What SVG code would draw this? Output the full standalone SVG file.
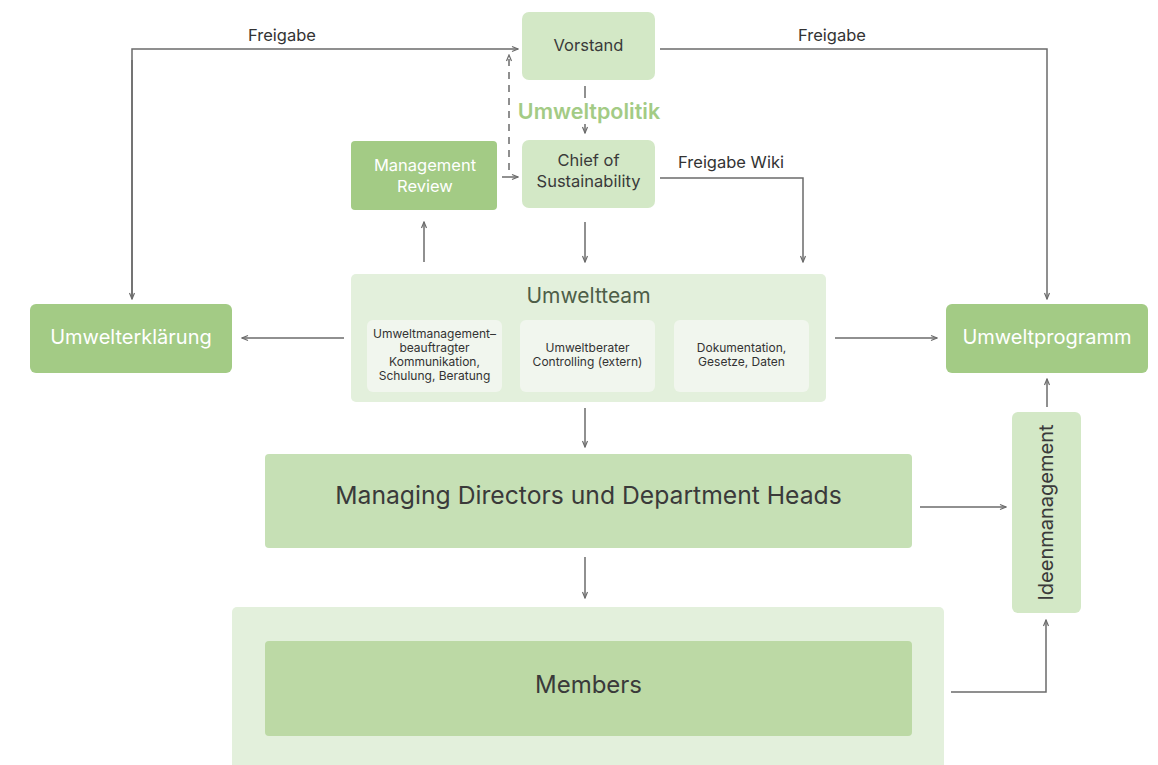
<svg xmlns="http://www.w3.org/2000/svg" width="1158" height="765" viewBox="0 0 1158 765">
<defs>
<marker id="ah" viewBox="0 0 8 8" refX="7" refY="4" markerWidth="8" markerHeight="8" markerUnits="userSpaceOnUse" orient="auto">
<path d="M1,1.5 L7,4 L1,6.5" fill="none" stroke="#6b6b6b" stroke-width="1.2"/>
</marker>
<style>
text{font-family:Inter,"Noto Sans","Liberation Sans",sans-serif;text-anchor:middle}
.c{fill:none;stroke:#6b6b6b;stroke-width:1.5}
.d{stroke-dasharray:7 6}
.lab{font-size:16.5px;fill:#333}
.light{fill:#d3e8c6}
.dark{fill:#a3cb85}
.team{fill:#e3f0dc}
.sub{fill:#f1f6ee}
.dt{fill:#3a3a3a}
.wt{fill:#ffffff}
.small{font-size:12px;fill:#333}
</style>
</defs>
<rect width="1158" height="765" fill="#ffffff"/>

<g id="connectors">
<polyline class="c" points="132,298 132,49 518,49" marker-end="url(#ah)"/>
<line class="c" x1="132" y1="60" x2="132" y2="299" marker-end="url(#ah)"/>
<polyline class="c" points="660,49 1047,49 1047,299" marker-end="url(#ah)"/>
<line class="c d" x1="509" y1="170" x2="509" y2="55" marker-end="url(#ah)"/>
<line class="c" x1="502" y1="177" x2="518" y2="177" marker-end="url(#ah)"/>
<line class="c" x1="585" y1="86" x2="585" y2="98"/>
<line class="c" x1="585" y1="124" x2="585" y2="133" marker-end="url(#ah)"/>
<polyline class="c" points="660,178 803,178 803,262" marker-end="url(#ah)"/>
<line class="c" x1="585" y1="222" x2="585" y2="262" marker-end="url(#ah)"/>
<line class="c" x1="424" y1="262" x2="424" y2="222" marker-end="url(#ah)"/>
<line class="c" x1="344" y1="338" x2="242" y2="338" marker-end="url(#ah)"/>
<line class="c" x1="835" y1="338" x2="937" y2="338" marker-end="url(#ah)"/>
<line class="c" x1="585" y1="408" x2="585" y2="447" marker-end="url(#ah)"/>
<line class="c" x1="585" y1="557" x2="585" y2="598" marker-end="url(#ah)"/>
<line class="c" x1="920" y1="507" x2="1006" y2="507" marker-end="url(#ah)"/>
<line class="c" x1="1047" y1="407" x2="1047" y2="379" marker-end="url(#ah)"/>
<polyline class="c" points="951,692 1046,692 1046,620" marker-end="url(#ah)"/>
<text class="lab" x="282" y="41">Freigabe</text>
<text class="lab" x="832" y="41">Freigabe</text>
<text class="lab" x="731" y="168">Freigabe Wiki</text>
<text x="589" y="119" style="font-size:21.5px;font-weight:600;fill:#a3cb85">Umweltpolitik</text>
</g>

<g id="vorstand">
<rect class="light" x="522" y="12" width="133" height="68" rx="7"/>
<text class="dt" x="588.5" y="51" font-size="16.5">Vorstand</text>
</g>

<g id="chief">
<rect class="light" x="522" y="140" width="133" height="68" rx="7"/>
<text class="dt" x="588.5" y="166" font-size="16.5">Chief of</text>
<text class="dt" x="588.5" y="187" font-size="16.5">Sustainability</text>
</g>

<g id="management-review">
<rect class="dark" x="351" y="141" width="146" height="69" rx="4"/>
<text class="wt" x="425" y="171" font-size="16.5">Management</text>
<text class="wt" x="425" y="192" font-size="16.5">Review</text>
</g>

<g id="umweltteam">
<rect class="team" x="351" y="274" width="475" height="128" rx="5"/>
<text x="588.5" y="303" font-size="21" fill="#4e5e48">Umweltteam</text>
<rect class="sub" x="367" y="320" width="135" height="72" rx="6"/>
<text class="small" x="434.5" y="338">Umweltmanagement–</text>
<text class="small" x="434.5" y="352">beauftragter</text>
<text class="small" x="434.5" y="366">Kommunikation,</text>
<text class="small" x="434.5" y="380">Schulung, Beratung</text>
<rect class="sub" x="520" y="320" width="135" height="72" rx="6"/>
<text class="small" x="587.5" y="352">Umweltberater</text>
<text class="small" x="587.5" y="366">Controlling (extern)</text>
<rect class="sub" x="674" y="320" width="135" height="72" rx="6"/>
<text class="small" x="741.5" y="352">Dokumentation,</text>
<text class="small" x="741.5" y="366">Gesetze, Daten</text>
</g>

<g id="umwelterklaerung">
<rect class="dark" x="30" y="304" width="202" height="69" rx="6"/>
<text class="wt" x="131" y="344" font-size="20">Umwelterklärung</text>
</g>

<g id="umweltprogramm">
<rect class="dark" x="946" y="304" width="202" height="69" rx="6"/>
<text class="wt" x="1047" y="344" font-size="20">Umweltprogramm</text>
</g>

<g id="ideenmanagement">
<rect class="light" x="1012" y="412" width="69" height="201" rx="6"/>
<text class="dt" x="0" y="0" font-size="20" transform="translate(1053,512.5) rotate(-90)">Ideenmanagement</text>
</g>

<g id="managing-directors">
<rect x="265" y="454" width="647" height="94" rx="4" fill="#c6e0b5"/>
<text class="dt" x="588.5" y="504" font-size="24.7">Managing Directors und Department Heads</text>
</g>

<g id="members">
<rect class="team" x="232" y="607" width="712" height="170" rx="5"/>
<rect x="265" y="641" width="647" height="95" rx="4" fill="#bcd9a5"/>
<text class="dt" x="588.5" y="693" font-size="24">Members</text>
</g>
</svg>
